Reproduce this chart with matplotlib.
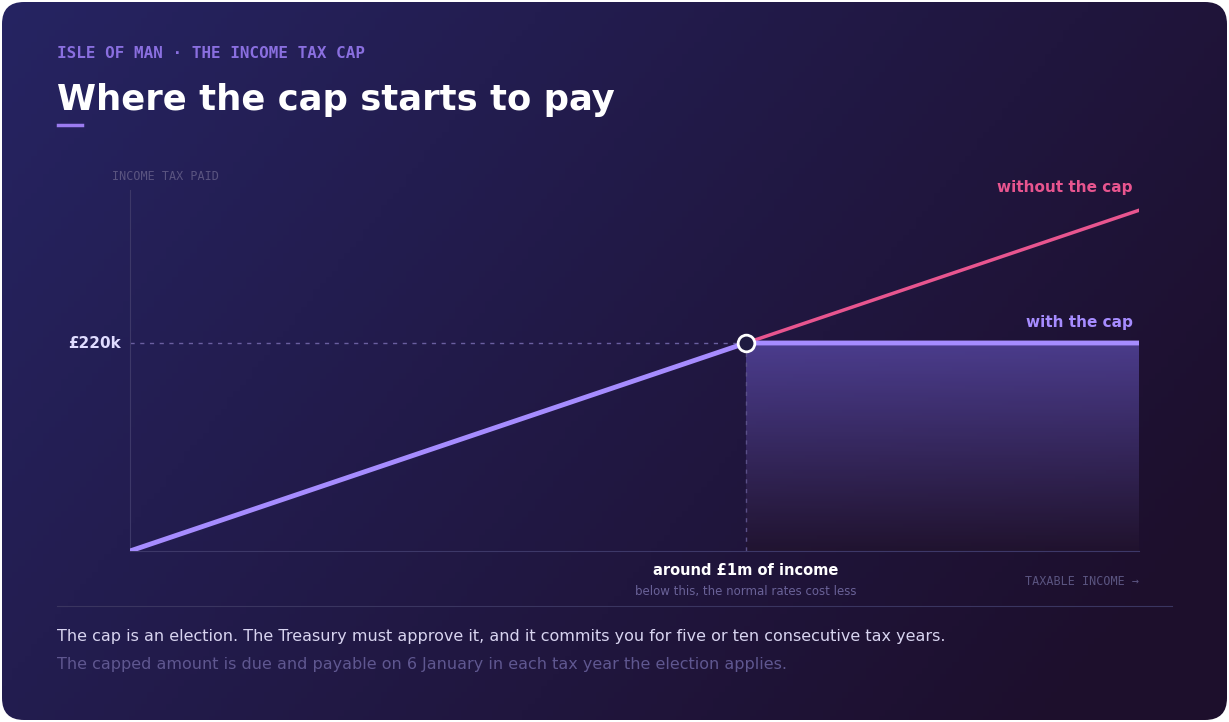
import matplotlib
matplotlib.use("Agg")
import matplotlib.pyplot as plt
import numpy as np
from matplotlib.patches import FancyBboxPatch, Polygon

income = [0.0, 1.0, 1.638]          # £m
tax_nocap = [0.0, 220.0, 360.4]     # £k
tax_cap = [0.0, 220.0, 220.0]
cap_label = "£220k"

W, H = 1229, 722
fig = plt.figure(figsize=(W/100, H/100), dpi=100)
fig.patch.set_alpha(0)
bg = fig.add_axes([0, 0, 1, 1])
bg.set_xlim(0, W); bg.set_ylim(H, 0); bg.axis("off")
xx, yy = np.meshgrid(np.linspace(0, 1, 200), np.linspace(0, 1, 120))
t = np.clip(0.75*xx + 0.35*yy, 0, 1)[..., None]
c1 = np.array([0x26, 0x24, 0x62]) / 255
c2 = np.array([0x1d, 0x0f, 0x2c]) / 255
img = c1*(1-t) + c2*t
im = bg.imshow(img, extent=[0, W, H, 0], aspect="auto")
box = FancyBboxPatch((2, 2), W-4, H-4, boxstyle="round,pad=0,rounding_size=22",
                     transform=bg.transData, facecolor="none", edgecolor="none")
bg.add_patch(box)
im.set_clip_path(box)

bg.text(57, 53, "ISLE OF MAN · THE INCOME TAX CAP", color="#8a6fe0", fontsize=11.5,
        family="DejaVu Sans Mono", fontweight="bold", va="center",
        fontstretch="expanded")
bg.text(57, 100, "Where the cap starts to pay", color="white", fontsize=25.5,
        fontweight="bold", va="center")
bg.plot([58, 82], [125, 125], color="#9b7bf0", lw=2.5)
bg.text(112, 177, "INCOME TAX PAID", color="#5a5480", fontsize=8.5,
        family="DejaVu Sans Mono", va="center")
bg.plot([57, 1172], [606, 606], color="#3a3560", lw=0.8)
bg.text(57, 636, "The cap is an election. The Treasury must approve it, and it commits you for five or ten consecutive tax years.",
        color="#d8d4f0", fontsize=11.5, va="center")
bg.text(57, 665, "The capped amount is due and payable on 6 January in each tax year the election applies.",
        color="#5f5790", fontsize=11.5, va="center")

ax = fig.add_axes([130/W, (H-551)/H, 1009/W, 361/H])
ax.patch.set_alpha(0)
ax.set_xlim(0, income[-1]); ax.set_ylim(0, 220*361/208)
for s in ["top", "right"]:
    ax.spines[s].set_visible(False)
ax.spines["left"].set_color("#3d3868"); ax.spines["bottom"].set_color("#3d3868")
ax.set_xticks([]); ax.set_yticks([])

grad = np.linspace(1, 0, 100)[:, None]
fc_top = np.array([0x5a, 0x4a, 0xa8]) / 255
fc_bot = np.array([0x22, 0x14, 0x2e]) / 255
gimg = fc_bot*(1-grad[..., None]) + fc_top*grad[..., None]
gimg = np.concatenate([gimg, np.full((100, 1, 1), 0.75)], axis=2)
gi = ax.imshow(gimg, extent=[income[1], income[2], 0, 220], aspect="auto", zorder=1)
poly = Polygon([[income[1], 0], [income[1], 220], [income[2], 220], [income[2], 0]],
               transform=ax.transData, facecolor="none", edgecolor="none")
ax.add_patch(poly); gi.set_clip_path(poly)

ax.plot([0, income[1]], [220, 220], ls=(0, (3, 4)), color="#6a5fa0", lw=1)
ax.plot([income[1], income[1]], [0, 220], ls=(0, (3, 4)), color="#5a5088", lw=1)
ax.plot(income[1:], tax_nocap[1:], color="#e8558f", lw=2.5, zorder=3)
ax.plot(income, tax_cap, color="#a68cff", lw=3.5, zorder=4, solid_capstyle="round")
ax.plot([income[1]], [220], "o", ms=12, mfc="#1e1a40", mec="white", mew=2, zorder=5)

ax.text(income[-1]-0.01, 384, "without the cap", color="#e8558f", fontsize=11,
        fontweight="bold", ha="right", va="center")
ax.text(income[-1]-0.01, 242, "with the cap", color="#a68cff", fontsize=11,
        fontweight="bold", ha="right", va="center")
ax.text(-0.015, 220, cap_label, color="#e0dcff", fontsize=11, fontweight="bold",
        ha="right", va="center")
ax.text(income[1], -21, "around £1m of income", color="white", fontsize=10.5,
        fontweight="bold", ha="center", va="center")
ax.text(income[1], -43, "below this, the normal rates cost less", color="#6a6298",
        fontsize=8.5, ha="center", va="center")
ax.text(income[-1], -32, "TAXABLE INCOME →", color="#5a5480", fontsize=8.5,
        family="DejaVu Sans Mono", ha="right", va="center")
for a in ax.texts:
    a.set_clip_on(False)

fig.savefig("out.png", dpi=100, transparent=True)
